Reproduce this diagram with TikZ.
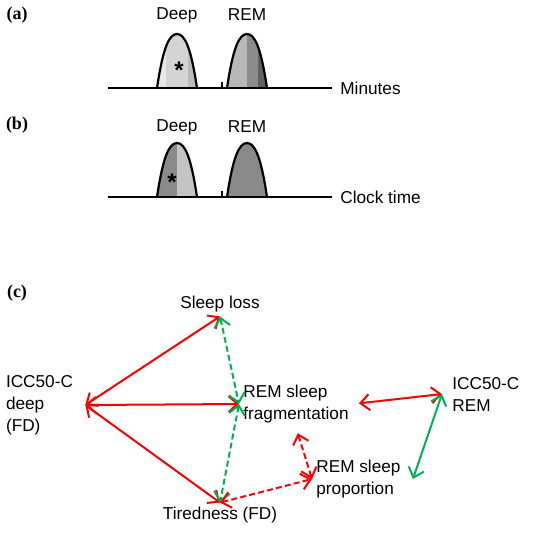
\documentclass[tikz,border=0pt]{standalone}
\usepackage{fontspec}
\setmainfont{Liberation Sans}
\newfontfamily\panelfont{Liberation Serif}
\usepackage{xcolor}
\usepackage{tikz}
\usetikzlibrary{positioning, arrows.meta}

\definecolor{linkred}{RGB}{255,0,0}
\definecolor{linkgreen}{RGB}{0,176,80}

% bell-shaped sleep peak: centre x, baseline y
\newcommand{\peakpath}[2]{(#1-20,#2) .. controls (#1-14,#2-40) and (#1-8,#2-54) .. (#1,#2-54) .. controls (#1+8,#2-54) and (#1+14,#2-40) .. (#1+20,#2)}

\begin{document}
\begin{tikzpicture}[
    % Define styles for the text, peaks and connectors
    x=0.5pt, y=-0.5pt,
    txt/.style={font=\fontsize{8.6pt}{11pt}\selectfont, inner sep=2pt},
    multi/.style={txt, align=left},
    panel/.style={font=\panelfont\bfseries\fontsize{9pt}{11pt}\selectfont},
    starnode/.style={font=\bfseries\fontsize{12pt}{12pt}\selectfont, inner sep=0pt},
    peak/.style={line width=1.1pt},
    axis/.style={line width=1.1pt},
    redlink/.style={{Straight Barb[length=4.5pt,width=8pt]}-{Straight Barb[length=4.5pt,width=8pt]}, line width=1pt, linkred},
    greenlink/.style={{Straight Barb[length=4.5pt,width=8pt]}-{Straight Barb[length=4.5pt,width=8pt]}, line width=1pt, linkgreen},
    dashlink/.style={dash pattern=on 3pt off 1.6pt}
]
    \useasboundingbox (0,0) rectangle (550,532);

    % (a) minutes
    \node[panel] (pa) at (17,15) {(a)};
    \node[txt] (adeep) at (177,15) {Deep};
    \node[txt] (arem) at (247,15) {REM};
    \begin{scope}
        \clip \peakpath{177}{88};
        \fill[black!9] (157,30) rectangle (166,88);
        \fill[black!17] (166,30) rectangle (188,88);
        \fill[black!27] (188,30) rectangle (197,88);
    \end{scope}
    \begin{scope}
        \clip \peakpath{247}{88};
        \fill[black!28] (227,30) rectangle (247,88);
        \fill[black!45] (247,30) rectangle (258,88);
        \fill[black!62] (258,30) rectangle (268,88);
    \end{scope}
    \draw[peak] \peakpath{177}{88};
    \draw[peak] \peakpath{247}{88};
    \node[starnode] (astar) at (179,70) {*};
    \draw[line width=0.8pt] (222,82) -- (222,88);
    \draw[axis] (108,88) coordinate (a0) -- (332,88) coordinate (a1);
    \node[txt, right=2pt of a1] (amin) {Minutes};

    % (b) clock time
    \node[panel] (pb) at (17,125) {(b)};
    \node[txt] (bdeep) at (177,127) {Deep};
    \node[txt] (brem) at (247,127) {REM};
    \begin{scope}
        \clip \peakpath{177}{197};
        \fill[black!46] (157,140) rectangle (177,197);
        \fill[black!23] (177,140) rectangle (197,197);
    \end{scope}
    \fill[black!46] \peakpath{247}{197};
    \draw[peak] \peakpath{177}{197};
    \draw[peak] \peakpath{247}{197};
    \node[starnode] (bstar) at (172,182) {*};
    \draw[line width=0.8pt] (222,191) -- (222,197);
    \draw[axis] (108,197) coordinate (b0) -- (332,197) coordinate (b1);
    \node[txt, right=2pt of b1] (bclock) {Clock time};

    % (c) links
    \node[panel] (pc) at (17,293) {(c)};
    \node[txt] (sleep) at (220,304) {Sleep loss};
    \node[multi, inner xsep=6pt] (deep) at (39.5,405) {ICC50-C\\deep\\(FD)};
    \node[multi, anchor=west] (frag) at (239,404) {REM sleep\\fragmentation};
    \node[multi, anchor=west, inner xsep=5pt] (iccrem) at (442,394) {ICC50-C\\REM};
    \node[multi, anchor=west] (prop) at (312,479) {REM sleep\\proportion};
    \node[txt] (tired) at (220,515) {Tiredness (FD)};

    \draw[redlink] (deep.east) -- (sleep.south);
    \draw[redlink] (deep.east) -- (frag.west);
    \draw[redlink] (deep.east) -- (tired.north);
    \draw[greenlink, dashlink] (sleep.south) -- (frag.west);
    \draw[greenlink, dashlink] (frag.west) -- (tired.north);
    \draw[redlink, dashlink, shorten <=3pt] (frag.south) -- (prop.west);
    \draw[redlink, dashlink] (tired.north) -- (prop.west);
    \draw[redlink, shorten <=3pt] (frag.east) -- (iccrem.west);
    \draw[greenlink] (iccrem.west) -- ([xshift=4pt]prop.east);
\end{tikzpicture}
\end{document}
